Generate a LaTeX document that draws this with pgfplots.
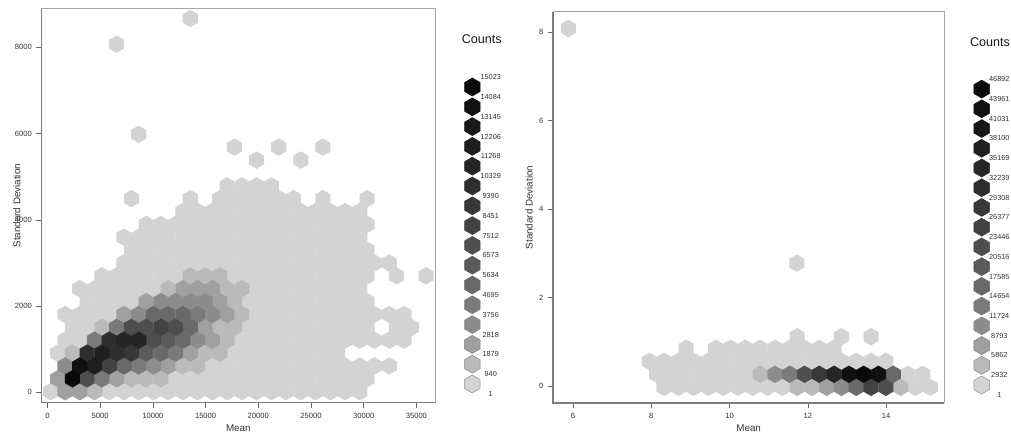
\documentclass[border=0pt]{standalone}
\usepackage{fontspec}
\usepackage{pgfplots}
\pgfplotsset{compat=1.18}
\setmainfont{Liberation Sans}
\definecolor{L1}{RGB}{211,211,211}
\definecolor{L2}{RGB}{186,186,186}
\definecolor{L3}{RGB}{160,160,160}
\definecolor{L4}{RGB}{140,140,140}
\definecolor{L5}{RGB}{122,122,122}
\definecolor{L6}{RGB}{105,105,105}
\definecolor{L7}{RGB}{90,90,90}
\definecolor{L8}{RGB}{78,78,78}
\definecolor{L9}{RGB}{66,66,66}
\definecolor{L10}{RGB}{56,56,56}
\definecolor{L11}{RGB}{46,46,46}
\definecolor{L12}{RGB}{37,37,37}
\definecolor{L13}{RGB}{30,30,30}
\definecolor{L14}{RGB}{24,24,24}
\definecolor{L15}{RGB}{17,17,17}
\definecolor{L16}{RGB}{10,10,10}
\definecolor{axdark}{RGB}{125,125,125}
\definecolor{axlight}{RGB}{165,165,165}
\definecolor{txt}{RGB}{50,50,50}
\pgfdeclareplotmark{hexD}{%
  \pgfpathmoveto{\pgfpoint{0pt}{8.72pt}}%
  \pgfpathlineto{\pgfpoint{7.55pt}{4.36pt}}%
  \pgfpathlineto{\pgfpoint{7.55pt}{-4.36pt}}%
  \pgfpathlineto{\pgfpoint{0pt}{-8.72pt}}%
  \pgfpathlineto{\pgfpoint{-7.55pt}{-4.36pt}}%
  \pgfpathlineto{\pgfpoint{-7.55pt}{4.36pt}}%
  \pgfpathclose\pgfusepathqfill}
\pgfdeclareplotmark{hexL}{%
  \pgfpathmoveto{\pgfpoint{0pt}{9pt}}%
  \pgfpathlineto{\pgfpoint{7.8pt}{4.5pt}}%
  \pgfpathlineto{\pgfpoint{7.8pt}{-4.5pt}}%
  \pgfpathlineto{\pgfpoint{0pt}{-9pt}}%
  \pgfpathlineto{\pgfpoint{-7.8pt}{-4.5pt}}%
  \pgfpathlineto{\pgfpoint{-7.8pt}{4.5pt}}%
  \pgfpathclose\pgfusepathqfillstroke}
\pgfplotsset{
  lev/.style={only marks, color=#1, mark=hexD, mark options={solid, fill=#1, draw=none}},
  leg/.style={only marks, color=#1, mark=hexL, mark options={solid, fill=#1, line width=0.5pt}},
  legE/.style 2 args={only marks, color=#1, mark=hexL, mark options={solid, fill=#2, line width=0.5pt}},
  hexaxis/.style={
    scale only axis, axis line style={draw=none},
    tick align=outside, xtick pos=bottom, ytick pos=left,
    major tick length=5pt, tick style={draw=black!60, line width=0.5pt},
    /pgf/number format/assume math mode=true,
    /pgf/number format/1000 sep={}, scaled ticks=false,
    ticklabel style={font=\fontsize{7.6}{9}\selectfont, text=txt},
    xticklabel style={yshift=-1.8pt},
    yticklabel style={xshift=-1pt},
    xlabel=Mean, ylabel=Standard Deviation,
    xlabel style={font=\fontsize{9.8}{11}\selectfont, text=txt, anchor=center},
    ylabel style={font=\fontsize{9.8}{11}\selectfont, text=txt, anchor=center},
    clip=false,
    execute at end axis={
      \draw[axlight, line width=1pt] (rel axis cs:0,1)--(rel axis cs:1,1)--(rel axis cs:1,0);
      \draw[axdark, line width=1.3pt] (rel axis cs:0,1)--(rel axis cs:0,0)--(rel axis cs:1,0);
    },
  },
  legaxis/.style={scale only axis, hide axis, clip=false, xmin=0, xmax=1, ymin=0, ymax=18},
}
\newcommand\lab[3]{\node[font=\fontsize{7.3}{9}\selectfont, text=txt, anchor=center, inner sep=0pt] at (axis cs:#1,#2) {#3};}
\newcommand\cnttitle[2]{\node[font=\fontsize{12.6}{14}\selectfont, text=black!90, anchor=center, inner sep=0pt] at (axis cs:#1,#2) {Counts};}
\newcommand\legmarks[1]{%
  \addplot[legE={black!45}{L1}] coordinates {(#1,1)};
  \addplot[legE={black!48}{L2}] coordinates {(#1,2)};
  \addplot[legE={black!52}{L3}] coordinates {(#1,3)};
  \addplot[leg=L4] coordinates {(#1,4)};
  \addplot[leg=L5] coordinates {(#1,5)};
  \addplot[leg=L6] coordinates {(#1,6)};
  \addplot[leg=L7] coordinates {(#1,7)};
  \addplot[leg=L8] coordinates {(#1,8)};
  \addplot[leg=L9] coordinates {(#1,9)};
  \addplot[leg=L10] coordinates {(#1,10)};
  \addplot[leg=L11] coordinates {(#1,11)};
  \addplot[leg=L12] coordinates {(#1,12)};
  \addplot[leg=L13] coordinates {(#1,13)};
  \addplot[leg=L14] coordinates {(#1,14)};
  \addplot[leg=L15] coordinates {(#1,15)};
  \addplot[leg=L16] coordinates {(#1,16)};
}
\begin{document}
\begin{tikzpicture}[x=1pt,y=1pt]
\path[use as bounding box] (0,0) rectangle (1011,433);
% ---------- left panel
\begin{axis}[hexaxis, at={(41.3pt,30.3pt)}, anchor=south west, width=394pt, height=394pt,
  xmin=-588, xmax=36793, ymin=-241, ymax=8895,
  xtick={0,5000,10000,15000,20000,25000,30000,35000}, ytick={0,2000,4000,6000,8000},
  xlabel style={at={(axis description cs:0.5,-0.0635)}},
  ylabel style={at={(axis description cs:-0.0617,0.5)}}]
\addplot[lev=L1] coordinates {
(266,14)(5858,14)(7256,14)(8654,14)(10052,14)(11450,14)(12848,14)(14246,14)(15644,14)(17042,14)(18440,14)(19838,14)(21236,14)(22634,14)(24032,14)(25430,14)(26828,14)(28226,14)(29624,14)
(12149,312)(13547,312)(14945,312)(16343,312)(17741,312)(19139,312)(20537,312)(21935,312)(23333,312)(24731,312)(26129,312)(27527,312)(28925,312)(30323,312)
(15644,611)(17042,611)(18440,611)(19838,611)(21236,611)(22634,611)(24032,611)(25430,611)(26828,611)(28226,611)(29624,611)(31022,611)(32420,611)
(965,909)(17741,909)(19139,909)(20537,909)(21935,909)(23333,909)(24731,909)(26129,909)(27527,909)
(1664,1208)(3062,1208)(18440,1208)(19838,1208)(21236,1208)(22634,1208)(24032,1208)(25430,1208)(26828,1208)(28226,1208)(29624,1208)(31022,1208)(32420,1208)(33818,1208)
(2363,1506)(3761,1506)(19139,1506)(20537,1506)(21935,1506)(23333,1506)(24731,1506)(26129,1506)(27527,1506)(28925,1506)(30323,1506)(33119,1506)(34517,1506)
(1664,1804)(3062,1804)(4460,1804)(5858,1804)(19838,1804)(21236,1804)(22634,1804)(24032,1804)(25430,1804)(26828,1804)(28226,1804)(29624,1804)(31022,1804)(32420,1804)(33818,1804)
(3761,2103)(5159,2103)(6557,2103)(7955,2103)(19139,2103)(20537,2103)(21935,2103)(23333,2103)(24731,2103)(26129,2103)(27527,2103)(28925,2103)(30323,2103)
(3062,2401)(4460,2401)(5858,2401)(7256,2401)(8654,2401)(10052,2401)(19838,2401)(21236,2401)(22634,2401)(24032,2401)(25430,2401)(26828,2401)(28226,2401)(29624,2401)
(5159,2700)(6557,2700)(7955,2700)(9353,2700)(10751,2700)(12149,2700)(17741,2700)(19139,2700)(20537,2700)(21935,2700)(23333,2700)(24731,2700)(26129,2700)(27527,2700)(28925,2700)(30323,2700)(33119,2700)(35915,2700)
(7256,2998)(8654,2998)(10052,2998)(11450,2998)(12848,2998)(14246,2998)(15644,2998)(17042,2998)(18440,2998)(19838,2998)(21236,2998)(22634,2998)(24032,2998)(25430,2998)(26828,2998)(28226,2998)(29624,2998)(31022,2998)(32420,2998)
(7955,3296)(9353,3296)(10751,3296)(12149,3296)(13547,3296)(14945,3296)(16343,3296)(17741,3296)(19139,3296)(20537,3296)(21935,3296)(23333,3296)(24731,3296)(26129,3296)(27527,3296)(28925,3296)(30323,3296)
(7256,3595)(8654,3595)(10052,3595)(11450,3595)(12848,3595)(14246,3595)(15644,3595)(17042,3595)(18440,3595)(19838,3595)(21236,3595)(22634,3595)(24032,3595)(25430,3595)(26828,3595)(28226,3595)(29624,3595)
(9353,3893)(10751,3893)(12149,3893)(13547,3893)(14945,3893)(16343,3893)(17741,3893)(19139,3893)(20537,3893)(21935,3893)(23333,3893)(24731,3893)(26129,3893)(27527,3893)(28925,3893)(30323,3893)
(12848,4192)(14246,4192)(15644,4192)(17042,4192)(18440,4192)(19838,4192)(21236,4192)(22634,4192)(24032,4192)(25430,4192)(26828,4192)(28226,4192)(29624,4192)
(7955,4490)(13547,4490)(16343,4490)(17741,4490)(19139,4490)(20537,4490)(21935,4490)(23333,4490)(26129,4490)(30323,4490)
(17042,4788)(18440,4788)(19838,4788)(21236,4788)
(19838,5385)(24032,5385)
(17741,5684)(21935,5684)(26129,5684)
(8654,5982)
(6557,8071)
(13547,8668)
};
\addplot[lev=L2] coordinates {(4460,14)(7955,312)(9353,312)(10751,312)(12848,611)(14246,611)(2363,909)(14945,909)(16343,909)(17042,1208)(5159,1506)(16343,1506)(17741,1506)(18440,1804)(17741,2103)(11450,2401)(17042,2401)(18440,2401)(13547,2700)(14945,2700)(16343,2700)};
\addplot[lev=L3] coordinates {(1664,14)(3062,14)(965,312)(6557,312)(11450,611)(13547,909)(15644,1208)(14945,1506)(7256,1804)(17042,1804)(9353,2103)(16343,2103)(12848,2401)(14246,2401)(15644,2401)};
\addplot[lev=L4] coordinates {(1664,611)(10052,611)(14246,1208)(8654,1804)(15644,1804)(10751,2103)(12149,2103)(13547,2103)(14945,2103)};
\addplot[lev=L5] coordinates {(5159,312)(8654,611)(12149,909)(4460,1208)(6557,1506)(14246,1804)};
\addplot[lev=L6] coordinates {(7256,611)(10751,909)(12848,1208)(13547,1506)(10052,1804)(11450,1804)(12848,1804)};
\addplot[lev=L7] coordinates {(9353,909)(11450,1208)};
\addplot[lev=L8] coordinates {(3761,312)(10052,1208)(7955,1506)(9353,1506)(12149,1506)};
\addplot[lev=L9] coordinates {(5858,611)(10751,1506)};
\addplot[lev=L10] coordinates {(7955,909)};
\addplot[lev=L11] coordinates {(3761,909)(6557,909)(5858,1208)};
\addplot[lev=L12] coordinates {(7256,1208)(8654,1208)};
\addplot[lev=L13] coordinates {(4460,611)(5159,909)};
\addplot[lev=L15] coordinates {(3062,611)};
\addplot[lev=L16] coordinates {(2363,312)};
\end{axis}
% ---------- left legend
\begin{axis}[legaxis, at={(460pt,29.2pt)}, anchor=south west, width=60pt, height=356.4pt]
\legmarks{0.205}
\cnttitle{0.362}{18.42}
\lab{0.512}{16.5}{15023}\lab{0.512}{15.5}{14084}\lab{0.512}{14.5}{13145}\lab{0.512}{13.5}{12206}
\lab{0.512}{12.5}{11268}\lab{0.512}{11.5}{10329}\lab{0.512}{10.5}{9390}\lab{0.512}{9.5}{8451}
\lab{0.512}{8.5}{7512}\lab{0.512}{7.5}{6573}\lab{0.512}{6.5}{5634}\lab{0.512}{5.5}{4695}
\lab{0.512}{4.5}{3756}\lab{0.512}{3.5}{2818}\lab{0.512}{2.5}{1879}\lab{0.512}{1.5}{940}\lab{0.512}{0.5}{1}
\end{axis}
% ---------- right panel
\begin{axis}[hexaxis, at={(553pt,30pt)}, anchor=south west, width=391.3pt, height=391pt,
  xmin=5.489, xmax=15.49, ymin=-0.377, ymax=8.449,
  xtick={6,8,10,12,14}, ytick={0,2,4,6,8},
  xlabel style={at={(axis description cs:0.5,-0.0639)}},
  ylabel style={at={(axis description cs:-0.0613,0.5)}}]
\addplot[lev=L1] coordinates {
(8.326,-0.023)(8.704,-0.023)(9.082,-0.023)(9.460,-0.023)(9.838,-0.023)(10.216,-0.023)(10.594,-0.023)(10.972,-0.023)(11.350,-0.023)(14.752,-0.023)(15.130,-0.023)
(8.137,0.271)(8.515,0.271)(8.893,0.271)(9.271,0.271)(9.649,0.271)(10.027,0.271)(10.405,0.271)(14.563,0.271)(14.941,0.271)
(7.948,0.564)(8.326,0.564)(8.704,0.564)(9.082,0.564)(9.460,0.564)(9.838,0.564)(10.216,0.564)(10.594,0.564)(10.972,0.564)(11.350,0.564)(11.728,0.564)(12.106,0.564)(12.484,0.564)(12.862,0.564)(13.240,0.564)(13.618,0.564)(13.996,0.564)
(8.893,0.858)(9.649,0.858)(10.027,0.858)(10.405,0.858)(10.783,0.858)(11.161,0.858)(11.539,0.858)(11.917,0.858)(12.295,0.858)(12.673,0.858)
(11.728,1.12)(12.862,1.12)(13.618,1.12)
(11.72,2.78)
(5.88,8.08)
};
\addplot[lev=L2] coordinates {(11.728,-0.023)(12.106,-0.023)(14.374,-0.023)(10.783,0.271)};
\addplot[lev=L3] coordinates {(12.484,-0.023)};
\addplot[lev=L4] coordinates {(12.862,-0.023)(11.161,0.271)};
\addplot[lev=L5] coordinates {(11.539,0.271)};
\addplot[lev=L6] coordinates {(13.240,-0.023)(14.185,0.271)};
\addplot[lev=L8] coordinates {(13.996,-0.023)(11.917,0.271)};
\addplot[lev=L9] coordinates {(13.618,-0.023)};
\addplot[lev=L10] coordinates {(12.295,0.271)};
\addplot[lev=L12] coordinates {(12.673,0.271)};
\addplot[lev=L15] coordinates {(13.051,0.271)(13.807,0.271)};
\addplot[lev=L16] coordinates {(13.429,0.271)};
\end{axis}
% ---------- right legend
\begin{axis}[legaxis, at={(970pt,28.27pt)}, anchor=south west, width=41pt, height=355.1pt]
\legmarks{0.285}
\cnttitle{0.488}{18.4}
\lab{0.715}{16.5}{46892}\lab{0.715}{15.5}{43961}\lab{0.715}{14.5}{41031}\lab{0.715}{13.5}{38100}
\lab{0.715}{12.5}{35169}\lab{0.715}{11.5}{32239}\lab{0.715}{10.5}{29308}\lab{0.715}{9.5}{26377}
\lab{0.715}{8.5}{23446}\lab{0.715}{7.5}{20516}\lab{0.715}{6.5}{17585}\lab{0.715}{5.5}{14654}
\lab{0.715}{4.5}{11724}\lab{0.715}{3.5}{8793}\lab{0.715}{2.5}{5862}\lab{0.715}{1.5}{2932}\lab{0.715}{0.5}{1}
\end{axis}
\end{tikzpicture}
\end{document}
